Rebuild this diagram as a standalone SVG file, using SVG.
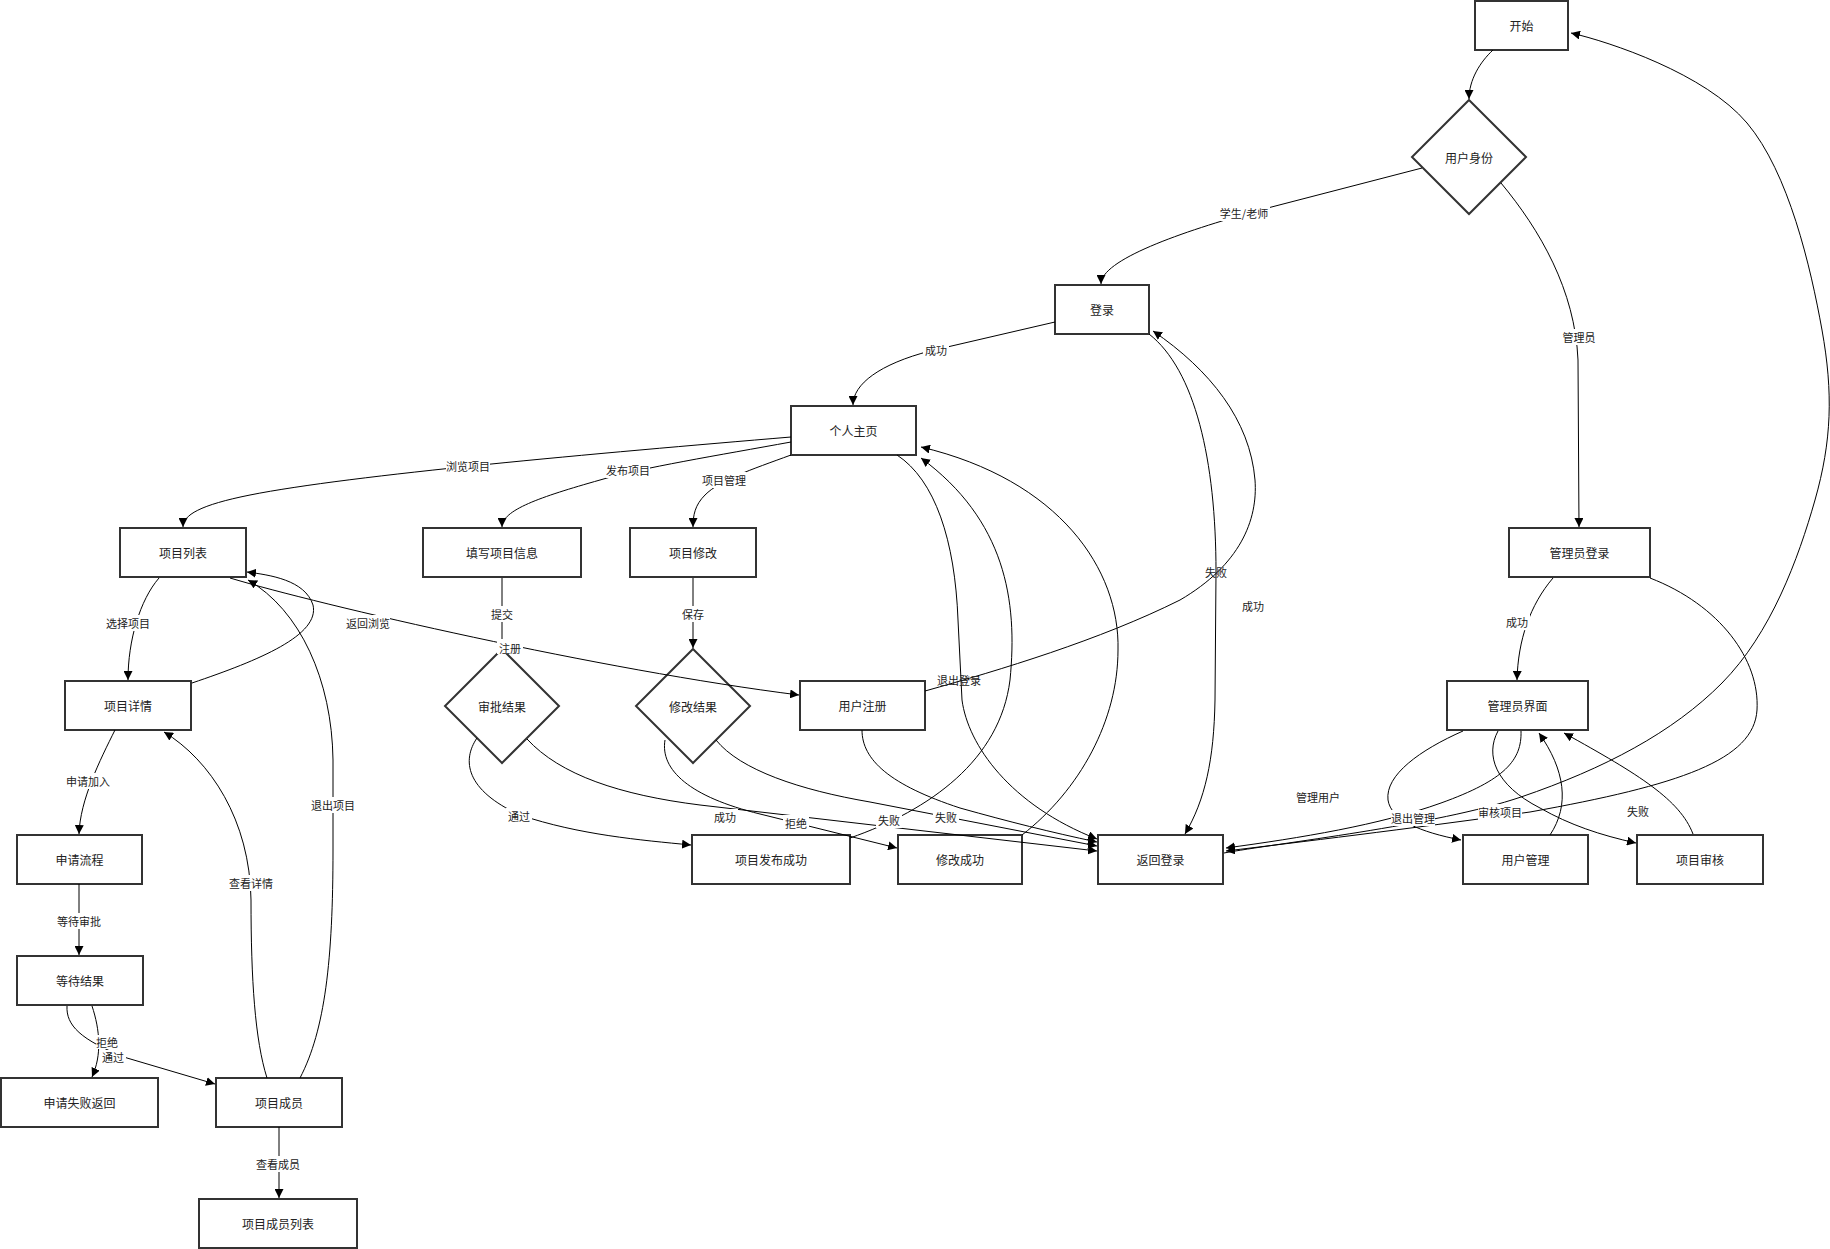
<svg xmlns="http://www.w3.org/2000/svg" width="1830" height="1249" viewBox="0 0 1830 1249">
<defs>
<style>
.node rect, .node polygon { fill: #ffffff; stroke: #333333; stroke-width: 2; }
.node text { font-family: "Noto Sans CJK SC", "Noto Sans", sans-serif; font-size: 12px; fill: #222222; text-anchor: middle; dominant-baseline: central; }
.edge { fill: none; stroke: #000000; stroke-width: 1; marker-end: url(#arrow); }
.lbl rect { fill: #ffffff; }
.lbl text { font-family: "Noto Sans CJK SC", "Noto Sans", sans-serif; font-size: 11px; fill: #222222; text-anchor: middle; dominant-baseline: central; }
</style>
<marker id="arrow" viewBox="0 0 10 10" refX="10" refY="5" markerWidth="9" markerHeight="9" markerUnits="userSpaceOnUse" orient="auto">
<path d="M0,0 L10,5 L0,10 z" fill="#000000"/>
</marker>
</defs>
<rect x="0" y="0" width="1830" height="1249" fill="#ffffff"/>

<g id="nodes">
<g id="n-start" class="node"><rect x="1475" y="1" width="93" height="49"/><text x="1521.5" y="25.5">开始</text></g>
<g id="n-identity" class="node"><polygon points="1469,100 1526,157 1469,214 1412,157"/><text x="1469" y="157">用户身份</text></g>
<g id="n-login" class="node"><rect x="1055" y="285" width="94" height="49"/><text x="1102" y="309.5">登录</text></g>
<g id="n-home" class="node"><rect x="791" y="406" width="125" height="49"/><text x="853.5" y="430.5">个人主页</text></g>
<g id="n-list" class="node"><rect x="120" y="528" width="126" height="49"/><text x="183" y="552.5">项目列表</text></g>
<g id="n-fill" class="node"><rect x="423" y="528" width="158" height="49"/><text x="502" y="552.5">填写项目信息</text></g>
<g id="n-modify" class="node"><rect x="630" y="528" width="126" height="49"/><text x="693" y="552.5">项目修改</text></g>
<g id="n-adminlogin" class="node"><rect x="1509" y="528" width="141" height="49"/><text x="1579.5" y="552.5">管理员登录</text></g>
<g id="n-detail" class="node"><rect x="65" y="681" width="126" height="49"/><text x="128" y="705.5">项目详情</text></g>
<g id="n-approve" class="node"><polygon points="502,649 559,706 502,763 445,706"/><text x="502" y="706">审批结果</text></g>
<g id="n-modresult" class="node"><polygon points="693,649 750,706 693,763 636,706"/><text x="693" y="706">修改结果</text></g>
<g id="n-register" class="node"><rect x="800" y="681" width="125" height="49"/><text x="862.5" y="705.5">用户注册</text></g>
<g id="n-adminui" class="node"><rect x="1447" y="681" width="141" height="49"/><text x="1517.5" y="705.5">管理员界面</text></g>
<g id="n-apply" class="node"><rect x="17" y="835" width="125" height="49"/><text x="79.5" y="859.5">申请流程</text></g>
<g id="n-published" class="node"><rect x="692" y="835" width="158" height="49"/><text x="771" y="859.5">项目发布成功</text></g>
<g id="n-modok" class="node"><rect x="898" y="835" width="124" height="49"/><text x="960" y="859.5">修改成功</text></g>
<g id="n-back" class="node"><rect x="1098" y="835" width="125" height="49"/><text x="1160.5" y="859.5">返回登录</text></g>
<g id="n-usermgmt" class="node"><rect x="1463" y="835" width="125" height="49"/><text x="1525.5" y="859.5">用户管理</text></g>
<g id="n-review" class="node"><rect x="1637" y="835" width="126" height="49"/><text x="1700" y="859.5">项目审核</text></g>
<g id="n-wait" class="node"><rect x="17" y="956" width="126" height="49"/><text x="80" y="980.5">等待结果</text></g>
<g id="n-fail" class="node"><rect x="1" y="1078" width="157" height="49"/><text x="79.5" y="1102.5">申请失败返回</text></g>
<g id="n-member" class="node"><rect x="216" y="1078" width="126" height="49"/><text x="279" y="1102.5">项目成员</text></g>
<g id="n-memberlist" class="node"><rect x="199" y="1199" width="158" height="49"/><text x="278" y="1223.5">项目成员列表</text></g>
</g>

<g id="connectors">
<path class="edge" d="M1493,50 C1480,62 1469,80 1469,99"/>
<path class="edge" d="M1422,168 L1260,210 C1180,232 1101,260 1101,284"/>
<path class="edge" d="M1501,183 C1540,230 1575,290 1578,360 L1579,527"/>
<path class="edge" d="M1055,322 L930,351 C880,364 853,384 853,405"/>
<path class="edge" d="M1149,334 C1195,370 1216,460 1216,572 L1215,700 C1214,760 1205,800 1185,834"/>
<path class="edge" d="M925,691 C1000,670 1100,640 1180,600 C1240,565 1258,520 1255,480 C1250,420 1210,370 1153,331"/>
<path class="edge" d="M791,437 C600,453 350,475 250,495 C200,505 183,515 183,527"/>
<path class="edge" d="M791,442 C720,455 640,468 600,480 C540,497 502,510 502,527"/>
<path class="edge" d="M791,455 C750,470 720,480 705,495 C695,505 693,515 693,527"/>
<path class="edge" d="M897,455 C935,480 955,540 958,620 L962,700 C968,745 1010,805 1097,839"/>
<path class="edge" d="M850,838 C930,810 1000,760 1010,680 C1018,600 1005,520 921,458"/>
<path class="edge" d="M1022,835 C1080,790 1118,720 1118,650 C1120,570 1060,480 921,447"/>
<path class="edge" d="M230,578 C320,605 600,670 799,695"/>
<path class="edge" d="M159,578 C140,600 128,640 128,680"/>
<path class="edge" d="M192,683 C260,660 320,635 313,605 C305,580 270,575 247,572"/>
<path class="edge" d="M115,730 C100,760 80,800 79,834"/>
<path class="edge" d="M79,884 L79,955"/>
<path class="edge" d="M67,1006 C66,1025 80,1040 127,1058 L215,1084"/>
<path class="edge" d="M92,1006 C100,1030 102,1055 92,1077"/>
<path class="edge" d="M279,1127 L279,1198"/>
<path class="edge" d="M267,1078 C255,1040 251,980 251,900 C250,820 210,760 164,732"/>
<path class="edge" d="M300,1078 C325,1030 333,960 333,850 L333,760 C332,680 300,610 248,580"/>
<path class="edge" d="M502,578 L502,648"/>
<path class="edge" d="M693,578 L693,648"/>
<path class="edge" d="M477,738 C462,760 465,790 520,815 C580,835 640,840 691,845"/>
<path class="edge" d="M527,739 C560,775 620,795 700,805 L1097,851"/>
<path class="edge" d="M665,740 C660,770 690,797 760,814 L897,848"/>
<path class="edge" d="M716,740 C740,770 800,790 870,802 L1097,846"/>
<path class="edge" d="M862,730 C862,760 890,785 960,808 C1010,822 1050,832 1097,842"/>
<path class="edge" d="M1553,578 C1530,605 1518,640 1517,680"/>
<path class="edge" d="M1650,578 C1720,605 1760,660 1757,710 C1754,760 1680,785 1530,812 C1400,830 1300,842 1226,851"/>
<path class="edge" d="M1463,731 C1420,750 1385,775 1388,800 C1391,820 1420,832 1461,840"/>
<path class="edge" d="M1498,731 C1485,755 1495,785 1540,808 C1570,825 1600,835 1636,843"/>
<path class="edge" d="M1521,731 C1522,760 1505,780 1441,803 C1380,825 1300,838 1226,848"/>
<path class="edge" d="M1550,835 C1570,805 1565,770 1539,733"/>
<path class="edge" d="M1693,834 C1680,800 1640,775 1564,733"/>
<path class="edge" d="M1224,853 C1273.5,843.7 1438,825.3 1521,797 C1604,768.7 1673,732.5 1722,683 C1771,633.5 1798.3,558.8 1815,500 C1831.7,441.2 1833.3,392.8 1822,330 C1810.7,267.2 1788.8,172.5 1747,123 C1705.2,73.5 1610,42 1571,33"/>
</g>

<g id="edge-labels">
<g class="lbl"><rect x="1218" y="205" width="52" height="16"/><text x="1244" y="213">学生/老师</text></g>
<g class="lbl"><rect x="1561" y="329" width="36" height="16"/><text x="1579" y="337">管理员</text></g>
<g class="lbl"><rect x="923" y="342" width="26" height="16"/><text x="936" y="350">成功</text></g>
<g class="lbl"><text x="1216" y="572">失败</text></g>
<g class="lbl"><rect x="1240" y="598" width="26" height="16"/><text x="1253" y="606">成功</text></g>
<g class="lbl"><rect x="446" y="458" width="44" height="16"/><text x="468" y="466">浏览项目</text></g>
<g class="lbl"><rect x="606" y="462" width="44" height="16"/><text x="628" y="470">发布项目</text></g>
<g class="lbl"><rect x="702" y="472" width="44" height="16"/><text x="724" y="480">项目管理</text></g>
<g class="lbl"><text x="959" y="680">退出登录</text></g>
<g class="lbl"><rect x="106" y="615" width="44" height="16"/><text x="128" y="623">选择项目</text></g>
<g class="lbl"><rect x="346" y="615" width="44" height="16"/><text x="368" y="623">返回浏览</text></g>
<g class="lbl"><rect x="497" y="639" width="26" height="15"/><text x="510" y="648">注册</text></g>
<g class="lbl"><rect x="489" y="606" width="26" height="16"/><text x="502" y="614">提交</text></g>
<g class="lbl"><rect x="680" y="606" width="26" height="16"/><text x="693" y="614">保存</text></g>
<g class="lbl"><rect x="66" y="773" width="44" height="16"/><text x="88" y="781">申请加入</text></g>
<g class="lbl"><rect x="57" y="913" width="44" height="16"/><text x="79" y="921">等待审批</text></g>
<g class="lbl"><rect x="96" y="1035" width="24" height="14"/><text x="107" y="1042">拒绝</text></g>
<g class="lbl"><rect x="100" y="1050" width="26" height="15"/><text x="113" y="1057">通过</text></g>
<g class="lbl"><rect x="229" y="875" width="44" height="16"/><text x="251" y="883">查看详情</text></g>
<g class="lbl"><rect x="311" y="797" width="44" height="16"/><text x="333" y="805">退出项目</text></g>
<g class="lbl"><rect x="256" y="1156" width="44" height="16"/><text x="278" y="1164">查看成员</text></g>
<g class="lbl"><rect x="506" y="808" width="26" height="16"/><text x="519" y="816">通过</text></g>
<g class="lbl"><rect x="712" y="809" width="26" height="16"/><text x="725" y="817">成功</text></g>
<g class="lbl"><rect x="783" y="815" width="26" height="16"/><text x="796" y="823">拒绝</text></g>
<g class="lbl"><rect x="876" y="812" width="26" height="16"/><text x="889" y="820">失败</text></g>
<g class="lbl"><rect x="933" y="809" width="26" height="16"/><text x="946" y="817">失败</text></g>
<g class="lbl"><rect x="1504" y="614" width="26" height="16"/><text x="1517" y="622">成功</text></g>
<g class="lbl"><rect x="1296" y="789" width="44" height="16"/><text x="1318" y="797">管理用户</text></g>
<g class="lbl"><rect x="1391" y="810" width="44" height="16"/><text x="1413" y="818">退出管理</text></g>
<g class="lbl"><rect x="1478" y="804" width="44" height="16"/><text x="1500" y="812">审核项目</text></g>
<g class="lbl"><rect x="1625" y="803" width="26" height="16"/><text x="1638" y="811">失败</text></g>
</g>
</svg>
